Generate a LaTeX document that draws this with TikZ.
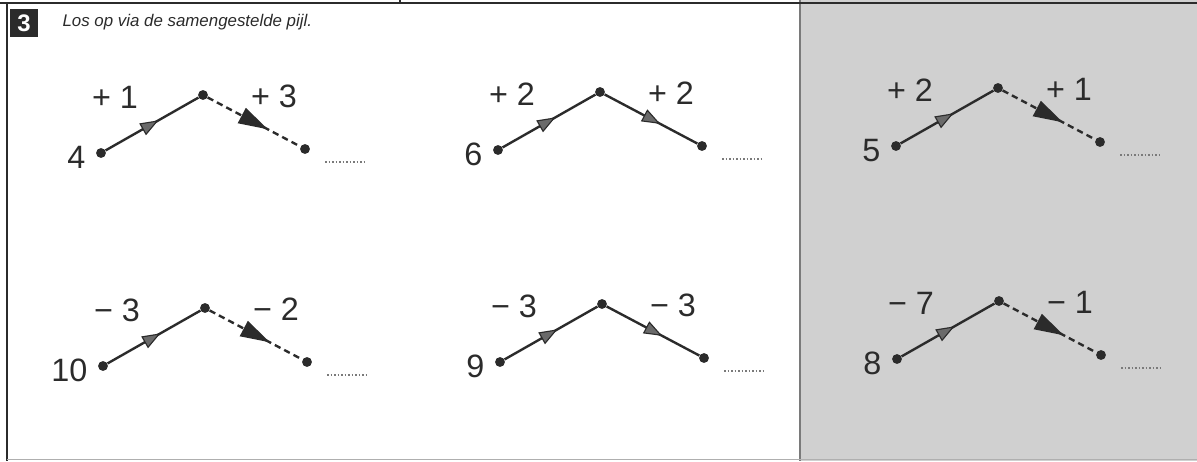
\documentclass[tikz,border=0pt]{standalone}
\usepackage{fontspec}
\setmainfont{Liberation Sans}
\usetikzlibrary{positioning, calc, arrows.meta, decorations.markings}
\definecolor{ink}{HTML}{2B2B2B}
\definecolor{panel-grey}{HTML}{D0D0D0}
\definecolor{head-grey}{HTML}{6A6A6A}
\definecolor{rule-grey}{HTML}{7A7A7A}

\tikzset{
    dot/.style={circle, fill=ink, inner sep=0pt, minimum size=7pt},
    num/.style={font=\fontsize{23}{27}\selectfont, text=ink, inner sep=1pt},
    leg/.style={line width=1.7pt, draw=ink},
    firstleg/.style={leg, postaction={decorate}, decoration={markings,
        mark=at position 0.57 with {\arrow{Triangle[length=13pt, width=9.5pt, fill=head-grey, line width=0.8pt]}}}},
    givenleg/.style={leg, postaction={decorate}, decoration={markings,
        mark=at position 0.6 with {\arrow{Triangle[length=13pt, width=9.5pt, fill=head-grey, line width=0.8pt]}}}},
    unknownleg/.style={leg, dash pattern=on 4.5pt off 3pt, postaction={decorate}, decoration={markings,
        mark=at position 0.65 with {\arrow{Triangle[length=21pt, width=12pt]}}}},
    answer/.style={line width=1pt, draw=rule-grey, dash pattern=on 1.2pt off 1.3pt}
}

\begin{document}
\begin{tikzpicture}[x=0.025cm, y=-0.025cm]
    \useasboundingbox (0,0) rectangle (1197,461);
    \fill[panel-grey] (800,0) rectangle (1197,461);
    \draw[rule-grey, line width=1pt] (800,0) -- (800,461);
    \draw[ink, line width=1.2pt] (0,3) -- (1197,3);
    \draw[ink, line width=1.2pt] (7,3) -- (7,461);
    \draw[ink, line width=1pt] (400,0) -- (400,3);
    \draw[rule-grey!60, line width=0.8pt] (7,459.5) -- (1197,459.5);

    \node[fill=ink, text=white, font=\bfseries\fontsize{17}{17}\selectfont,
          minimum width=0.7cm, minimum height=0.7cm, inner sep=0pt] (task) at (24,23) {3};
    \node[right=0.6cm of task, font=\itshape\fontsize{12}{14}\selectfont, text=ink,
          inner sep=0pt, yshift=0.02cm] (title) {Los op via de samengestelde pijl.};

    \foreach \i/\x/\y/\s/\l/\r/\rstyle in {
        1/101/153/4/+ 1/+ 3/unknownleg,
        2/498/150/6/+ 2/+ 2/givenleg,
        3/896/146/5/+ 2/+ 1/unknownleg,
        4/103/366/10/− 3/− 2/unknownleg,
        5/500/362/9/− 3/− 3/givenleg,
        6/897/359/8/− 7/− 1/unknownleg} {
        \node[dot] (a\i) at (\x,\y) {};
        \node[dot] (b\i) at ($(a\i)+(102,-58)$) {};
        \node[dot] (c\i) at ($(a\i)+(204,-4)$) {};
        \node[num, left=0.22cm of a\i, yshift=-0.12cm] (n\i) {\s};
        \node[num] (p\i) at ($(a\i)+(14,-56)$) {\l};
        \node[num] (q\i) at ($(b\i)+(71,1)$) {\r};
        \coordinate (d\i) at ($(c\i)+(20,13)$);
        \coordinate (e\i) at ($(c\i)+(62,13)$);
        \draw[firstleg] (a\i) -- (b\i);
        \draw[\rstyle] (b\i) -- (c\i);
        \draw[answer] (d\i) -- (e\i);
    }
\end{tikzpicture}
\end{document}
